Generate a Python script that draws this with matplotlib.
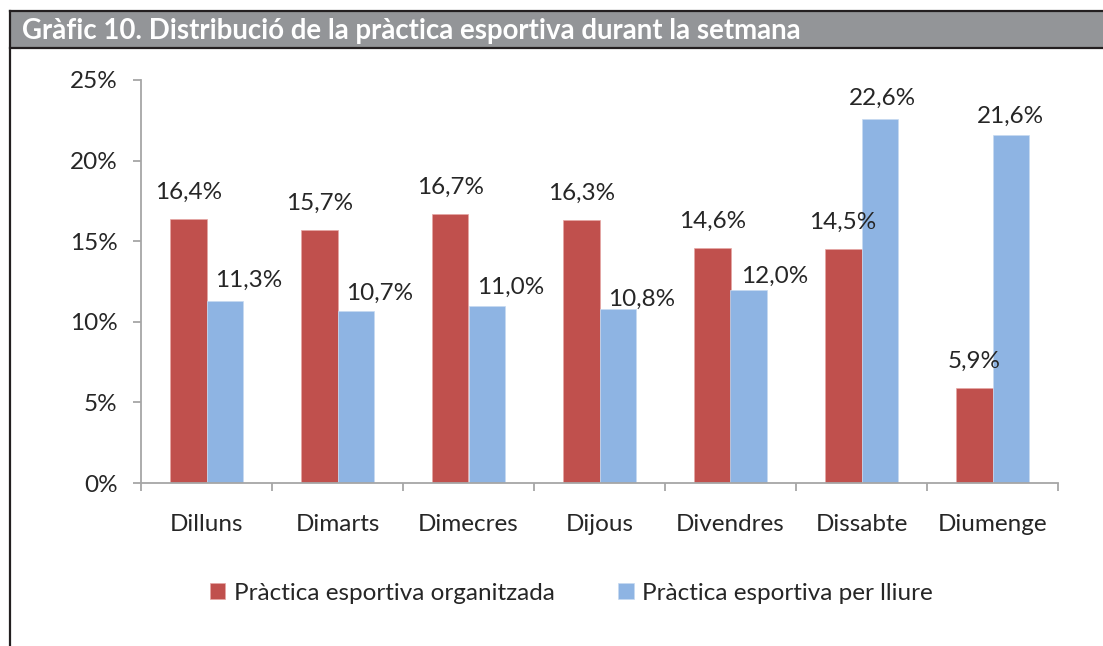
import numpy as np
import matplotlib.pyplot as plt
from matplotlib.patches import Rectangle
from matplotlib.lines import Line2D

plt.rcParams['font.family'] = ['Lato', 'DejaVu Sans']

# data
days = ['Dilluns', 'Dimarts', 'Dimecres', 'Dijous', 'Divendres', 'Dissabte', 'Diumenge']
organitzada = [16.4, 15.7, 16.7, 16.3, 14.6, 14.5, 5.9]
lliure = [11.3, 10.7, 11.0, 10.8, 12.0, 22.6, 21.6]
series_names = ['Pràctica esportiva organitzada', 'Pràctica esportiva per lliure']
title = 'Gràfic 10. Distribució de la pràctica esportiva durant la setmana'

red = '#C0504D'
blue = '#8EB4E3'
axis_col = '#A6A6A6'
text_col = '#262626'
fs = 17.5

W, H = 1103, 646
fig = plt.figure(figsize=(W / 100, H / 100), dpi=100)

# header bar and frame line
fig.add_artist(Rectangle((10 / W, 1 - 48 / H), 1 - 10 / W, 37 / H, transform=fig.transFigure,
                         facecolor='#939598', edgecolor='none'))
fig.add_artist(Line2D([10 / W, 1], [1 - 11 / H] * 2, transform=fig.transFigure, color='#231F20', lw=1.6))
fig.add_artist(Line2D([10 / W, 1], [1 - 48 / H] * 2, transform=fig.transFigure, color='#231F20', lw=1.6))
fig.add_artist(Line2D([10 / W] * 2, [0, 1 - 11 / H], transform=fig.transFigure, color='#231F20', lw=1.6))
fig.text(22 / W, 1 - 31 / H, title, color='white', fontsize=19.9, fontweight='bold', va='center', ha='left')

ax = fig.add_axes([141 / W, 1 - 483 / H, 917 / W, 403 / H])
x = np.arange(len(days))
bw = 0.28
ax.bar(x - bw / 2, organitzada, bw, color=red, edgecolor='#E6A6A4', linewidth=0.5, label=series_names[0])
ax.bar(x + bw / 2, lliure, bw, color=blue, edgecolor='#C6DAF1', linewidth=0.5, label=series_names[1])

ax.set_xlim(-0.5, len(days) - 0.5)
ax.set_ylim(0, 25)

def pct(v):
    return ('%.1f%%' % v).replace('.', ',')

# data labels (offsets in pixels, as Excel placed them)
blue_dx = [24, 24, 24, 24, 26, 3, 0]
blue_dy = [13.7, 11, 12, 3, 6.6, 14, 11.7]
for i, v in enumerate(organitzada):
    ax.annotate(pct(v), (x[i] - bw / 2, v), xytext=(0, 20 * 0.72), textcoords='offset points',
                ha='center', va='baseline', fontsize=fs, color=text_col)
for i, v in enumerate(lliure):
    ax.annotate(pct(v), (x[i] + bw / 2, v), xytext=(blue_dx[i] * 0.72, blue_dy[i] * 0.72),
                textcoords='offset points', ha='center', va='baseline', fontsize=fs, color=text_col)

for s in ['top', 'right']:
    ax.spines[s].set_visible(False)
for s in ['left', 'bottom']:
    ax.spines[s].set_color(axis_col)
    ax.spines[s].set_linewidth(1.3)

ax.set_yticks(np.arange(0, 26, 5))
ax.set_yticklabels(['%d%%' % t for t in range(0, 26, 5)])
ax.tick_params(axis='y', length=6, width=1.3, color=axis_col, pad=11, labelsize=fs, labelcolor=text_col)
ax.set_xticks(x)
ax.set_xticklabels(days)
ax.tick_params(axis='x', which='major', length=0, pad=22, labelsize=fs, labelcolor=text_col)
ax.set_xticks(np.arange(-0.5, len(days)), minor=True)
ax.tick_params(axis='x', which='minor', length=6, width=1.3, color=axis_col)

fig.legend(loc='center', bbox_to_anchor=(0.518, 1 - 593 / H), ncol=2, frameon=False, fontsize=fs,
           handlelength=0.65, handleheight=0.65, handletextpad=0.35, columnspacing=2.6,
           labelcolor=text_col)

fig.savefig('out.png', dpi=100)
